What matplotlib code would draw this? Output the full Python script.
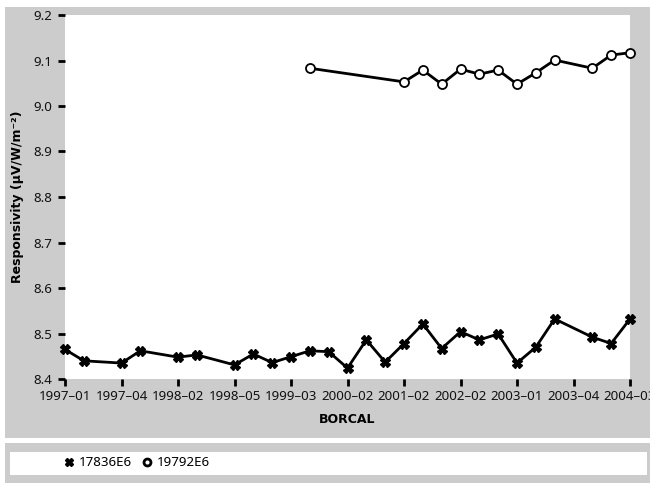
import matplotlib
matplotlib.use("Agg")
import matplotlib.pyplot as plt
from matplotlib.patches import Rectangle
from matplotlib.lines import Line2D

# ---- data ----
tick_labels = ["1997\u201301", "1997\u201304", "1998\u201302", "1998\u201305", "1999\u201303",
               "2000\u201302", "2001\u201302", "2002\u201302", "2003\u201301", "2003\u201304",
               "2004\u201303"]
n_categories = 31  # labelled every third category

s1_name = "17836E6"
s1_idx = [0, 1, 3, 4, 6, 7, 9, 10, 11, 12, 13, 14, 15, 16, 17, 18, 19, 20,
          21, 22, 23, 24, 25, 26, 28, 29, 30]
s1_val = [8.465, 8.440, 8.435, 8.462, 8.448, 8.453, 8.431, 8.455, 8.436, 8.449,
          8.462, 8.460, 8.424, 8.486, 8.437, 8.478, 8.521, 8.467, 8.504, 8.486,
          8.499, 8.435, 8.470, 8.532, 8.492, 8.478, 8.532]

s2_name = "19792E6"
s2_idx = [13, 18, 19, 20, 21, 22, 23, 24, 25, 26, 28, 29, 30]
s2_val = [9.083, 9.053, 9.079, 9.048, 9.081, 9.070, 9.079, 9.048, 9.073, 9.101,
          9.083, 9.112, 9.117]

y_ticks = [8.4, 8.5, 8.6, 8.7, 8.8, 8.9, 9.0, 9.1, 9.2]

plt.rcParams['font.family'] = ['Noto Sans', 'DejaVu Sans']
label_font = ['DejaVu Sans']

# ---- figure ----
W, H = 650, 483
fig = plt.figure(figsize=(W / 100, H / 100), dpi=100)
fig.patch.set_facecolor("white")

def px_rect(x0, y0, x1, y1, color):
    fig.patches.append(Rectangle((x0 / W, 1 - y1 / H), (x1 - x0) / W, (y1 - y0) / H,
                                 transform=fig.transFigure, facecolor=color,
                                 edgecolor="none", zorder=-10))

grey = "#cccccc"
px_rect(5, 6.5, 650, 438, grey)       # main panel
px_rect(5, 443, 650, 483, grey)       # legend panel
px_rect(10, 452, 647, 475, "white")   # legend box

ax = fig.add_axes([65 / W, 1 - 379 / H, (630 - 65) / W, (379 - 15) / H])
ax.set_facecolor("white")

ax.plot(s1_idx, s1_val, color="black", lw=2.0, marker="X", ms=6.5,
        mfc="black", mec="black", clip_on=False, zorder=3)
ax.plot(s2_idx, s2_val, color="black", lw=2.0, marker="o", ms=6.5,
        mfc="white", mec="black", mew=1.3, clip_on=False, zorder=3)

ax.set_xlim(0, n_categories - 1)
ax.set_ylim(8.4, 9.2)
ax.set_xticks(list(range(0, n_categories, 3)))
ax.set_xticklabels(tick_labels)
ax.set_yticks(y_ticks)
ax.set_yticklabels([f"{v:.1f}" for v in y_ticks])

for s in ax.spines.values():
    s.set_visible(False)
ax.tick_params(axis="both", direction="out", length=5, width=2, color="black",
               labelsize=9.6, labelcolor="#111111")
ax.tick_params(axis="x", pad=3)
ax.tick_params(axis="y", pad=4)

ax.set_xlabel("BORCAL", fontsize=9, fontweight="bold", family=label_font, labelpad=7)
ax.set_ylabel("Responsivity (\u00b5V/W/m\u207b\u00b2)", fontsize=9, fontweight="bold",
              family=label_font, labelpad=7)

handles = [Line2D([], [], ls="none", marker="X", ms=5.5, mfc="black", mec="black"),
           Line2D([], [], ls="none", marker="o", ms=5, mfc="white", mec="black", mew=2)]
fig.legend(handles, [s1_name, s2_name], loc="center left",
           bbox_to_anchor=(50 / W, 1 - 463 / H), ncol=2, frameon=False,
           fontsize=9.6, handletextpad=0.25, columnspacing=0.65, handlelength=1.0)

fig.savefig("out.png", dpi=100)
